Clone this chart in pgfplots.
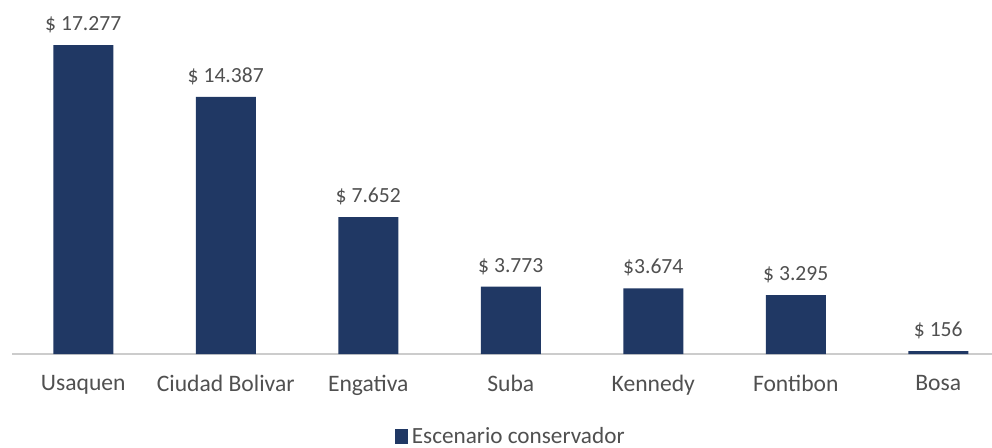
\documentclass[border=0pt]{standalone}
\usepackage{pgfplots}
\pgfplotsset{compat=1.18}
\usepackage{fontspec}
\setmainfont{Carlito}
\definecolor{navy}{HTML}{203864}
\definecolor{txt}{HTML}{505050}
\begin{document}
\begin{tikzpicture}
\useasboundingbox (0,-46.5pt) rectangle (496pt,177pt);
\begin{axis}[
  at={(6pt,0pt)}, anchor=south west,
  scale only axis, width=490pt, height=177pt,
  xmin=-0.5, xmax=6.377, ymin=0, ymax=19800,
  axis x line=bottom, axis y line=none,
  x axis line style={draw=black!20, line width=0.6pt, -},
  ytick=\empty,
  xtick={0,...,6}, major tick length=0pt,
  xticklabels={Usaquen, Ciudad Bolivar, Engativa, Suba, Kennedy, Fontibon, Bosa},
  xticklabel style={font=\fontsize{11.8}{13}\selectfont, text=txt, yshift=-7pt},
  ybar, bar width=30pt,
  point meta=explicit symbolic,
  nodes near coords,
  nodes near coords style={font=\fontsize{10.8}{12}\selectfont, text=txt, anchor=south, yshift=2.5pt},
  legend style={at={(250pt,-41.5pt)}, anchor=center, draw=none, font=\fontsize{11.6}{13}\selectfont, text=txt,
    legend cell align=left, inner sep=0pt},
  legend image code/.code={\fill[navy] (0cm,-0.12cm) rectangle (0.22cm,0.14cm);},
  clip=false,
]
\addplot[fill=navy, draw=none] coordinates {
  (0,17277) [\$ 17.277]
  (1,14387) [\$ 14.387]
  (2,7652)  [\$ 7.652]
  (3,3773)  [\$ 3.773]
  (4,3674)  [\$3.674]
  (5,3295)  [\$ 3.295]
  (6,156)   [\$ 156]
};
\legend{Escenario conservador}
\end{axis}
\end{tikzpicture}
\end{document}
